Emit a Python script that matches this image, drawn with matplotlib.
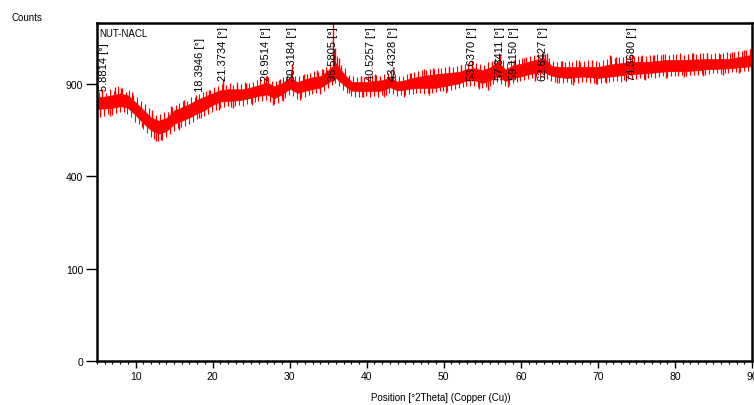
import numpy as np
import matplotlib
matplotlib.use("Agg")
import matplotlib.pyplot as plt
import matplotlib.transforms as mtransforms

# --- данные (счёт по 2Theta) ---
two_theta = np.arange(5, 91, 1)
band_hi = [835, 840, 848, 860, 848, 805, 760, 715, 697, 712,
           756, 775, 795, 820, 840, 860, 880, 886, 886, 886,
           898, 912, 930, 905, 925, 960, 932, 950, 965, 972,
           1010, 1060, 990, 935, 932, 932, 940, 945, 960, 935,
           945, 960, 970, 978, 985, 990, 995, 1000, 1020, 1025,
           1012, 1030, 1070, 1015, 1047, 1055, 1069, 1085, 1095, 1040,
           1033, 1033, 1033, 1033, 1033, 1033, 1045, 1054, 1060, 1069,
           1069, 1069, 1072, 1078, 1083, 1083, 1083, 1085, 1087, 1089,
           1089, 1089, 1090, 1100, 1110, 1120]
band_lo = [726, 728, 732, 742, 732, 690, 645, 605, 587, 600,
           641, 658, 676, 700, 720, 750, 770, 774, 776, 782,
           794, 804, 815, 790, 815, 850, 823, 836, 848, 858,
           890, 920, 875, 838, 835, 835, 835, 838, 860, 838,
           845, 852, 855, 855, 856, 866, 875, 885, 905, 905,
           886, 905, 930, 900, 919, 930, 945, 955, 960, 935,
           925, 920, 925, 930, 925, 920, 925, 932, 938, 945,
           948, 950, 955, 960, 965, 965, 965, 968, 972, 978,
           980, 983, 985, 990, 995, 1000]

# шум: вершины вверх (5.2, 5.7, ...) и вниз (5.45, 5.95, ...)
noise_up_pos = np.arange(5.2, 90, 0.5)
noise_up = [850, 862, 845, 870, 858, 885, 872, 850, 860, 830,
            815, 790, 772, 748, 738, 712, 715, 728, 730, 758,
            770, 780, 795, 790, 815, 820, 835, 850, 858, 862,
            878, 890, 900, 895, 905, 892, 910, 898, 912, 905,
            915, 925, 930, 940, 948, 922, 918, 935, 945, 960,
            985, 955, 950, 962, 968, 975, 985, 980, 1000, 1015,
            1040, 1120, 1090, 1030, 1005, 960, 952, 948, 955, 945,
            950, 958, 962, 952, 965, 970, 985, 968, 955, 950,
            968, 972, 980, 985, 995, 990, 1002, 998, 1008, 1005,
            1012, 1018, 1015, 1020, 1028, 1035, 1040, 1050, 1042, 1035,
            1030, 1048, 1055, 1075, 1090, 1060, 1040, 1062, 1068, 1072,
            1078, 1085, 1090, 1100, 1105, 1115, 1108, 1075, 1058, 1052,
            1055, 1050, 1058, 1048, 1060, 1052, 1055, 1062, 1050, 1058,
            1052, 1065, 1070, 1088, 1075, 1082, 1085, 1090, 1092, 1088,
            1090, 1095, 1088, 1098, 1095, 1102, 1100, 1105, 1098, 1108,
            1102, 1110, 1100, 1106, 1112, 1104, 1110, 1115, 1112, 1108,
            1115, 1110, 1112, 1118, 1115, 1122, 1125, 1130, 1135, 1142]
noise_dn_pos = np.arange(5.45, 90, 0.5)
noise_dn = [712, 705, 718, 712, 722, 728, 725, 715, 700, 672,
            660, 630, 612, 590, 578, 570, 575, 588, 605, 622,
            635, 642, 650, 660, 672, 685, 695, 705, 718, 730,
            740, 752, 755, 760, 758, 762, 768, 765, 772, 778,
            785, 790, 795, 800, 785, 775, 780, 798, 812, 830,
            825, 808, 812, 820, 828, 835, 840, 845, 858, 872,
            895, 905, 888, 860, 840, 822, 818, 820, 815, 822,
            818, 825, 820, 828, 830, 842, 838, 825, 828, 832,
            835, 838, 840, 842, 838, 845, 840, 848, 852, 855,
            858, 862, 868, 872, 880, 888, 890, 885, 878, 872,
            880, 890, 900, 912, 898, 885, 892, 905, 912, 918,
            925, 932, 938, 945, 948, 940, 930, 918, 912, 908,
            905, 910, 902, 912, 908, 915, 910, 905, 908, 900,
            905, 910, 915, 918, 920, 915, 925, 930, 932, 935,
            938, 930, 940, 945, 942, 948, 950, 945, 952, 955,
            950, 958, 955, 960, 958, 962, 965, 960, 968, 970,
            972, 968, 975, 972, 978, 980, 982, 985, 988, 992]

# отдельные выбросы и пики (положение, счёт)
spike_up_pos = [5.6, 7.4, 8.1, 9.6, 12.2, 14.6, 16.3, 17.8, 19.5, 21.37,
                23.2, 24.3, 26.95, 28.6, 30.32, 31.9, 33.5, 34.3, 35.58, 35.9,
                36.4, 39.2, 41.1, 43.43, 45.6, 47.4, 48.6, 50.7, 52.2, 53.64,
                56.2, 57.34, 59.12, 60.4, 62.84, 63.4, 65.3, 67.6, 69.2, 71.6,
                72.4, 74.37, 75.6, 77.3, 78.4, 80.6, 82.3, 84.1, 85.8, 87.4,
                88.9, 89.7]
spike_up_cnt = [870, 880, 875, 850, 735, 760, 800, 830, 860, 935,
                900, 905, 950, 925, 1035, 965, 990, 1000, 1340, 1150,
                1080, 955, 965, 1015, 975, 1000, 1010, 1015, 1030, 1055,
                1050, 1105, 1065, 1075, 1120, 1110, 1055, 1065, 1060, 1100,
                1085, 1095, 1090, 1100, 1105, 1100, 1110, 1115, 1105, 1120,
                1135, 1140]
spike_dn_pos = [5.4, 6.7, 10.8, 12.6, 13.3, 15.6, 18.2, 20.8, 22.6, 25.1,
                27.8, 29.2, 31.4, 33.9, 37.7, 39.5, 42.3, 44.9, 48.1, 50.3,
                54.6, 55.8, 58.4, 61.8, 64.7, 66.8, 69.7, 71.1, 73.6, 76.1,
                78.9, 81.2, 83.7, 86.2, 88.3]
spike_dn_cnt = [700, 705, 640, 570, 575, 625, 690, 740, 750, 770,
                770, 790, 800, 835, 840, 815, 815, 820, 830, 845,
                870, 860, 880, 920, 905, 895, 900, 905, 918, 925,
                940, 945, 955, 960, 970]

# подписи пиков
peak_pos = [5.8814, 18.3946, 21.3734, 26.9514, 30.3184, 35.5805, 40.5257,
            43.4328, 53.6370, 57.3411, 59.1150, 62.8427, 74.3680]
peak_top = [0.944, 0.959, 0.991, 0.991, 0.991, 0.991, 0.991,
            0.991, 0.991, 0.991, 0.991, 0.991, 0.991]

RED = "#ff0000"
CORE_INSET = 20  # плотная часть полосы уже, чем огибающая

fig = plt.figure(figsize=(7.54, 4.06), dpi=100)
ax = fig.add_axes([97 / 754, 44 / 406, 655 / 754, 338 / 406])
ax.set_yscale("function", functions=(lambda v: np.sqrt(np.clip(v, 0, None)),
                                     lambda v: v ** 2))

lo = np.array(band_lo) + CORE_INSET
hi = np.array(band_hi) - CORE_INSET
mid = (lo + hi) / 2
ax.fill_between(two_theta, lo, hi, color=RED, lw=0.5, edgecolor=RED)
ax.vlines(noise_up_pos, np.interp(noise_up_pos, two_theta, mid), noise_up,
          color=RED, lw=0.8)
ax.vlines(noise_dn_pos, noise_dn, np.interp(noise_dn_pos, two_theta, mid),
          color=RED, lw=0.8)
ax.vlines(spike_up_pos, np.interp(spike_up_pos, two_theta, mid), spike_up_cnt,
          color=RED, lw=1.0)
ax.vlines(spike_dn_pos, spike_dn_cnt, np.interp(spike_dn_pos, two_theta, mid),
          color=RED, lw=1.0)

trans = mtransforms.blended_transform_factory(ax.transData, ax.transAxes)
for p, t in zip(peak_pos, peak_top):
    ax.text(p, t, f"{p:.4f} [°]", rotation=90, ha="center", va="top",
            fontsize=8, family="Liberation Sans", transform=trans)

ax.text(0.004, 0.985, "NUT-NACL", transform=ax.transAxes, ha="left", va="top",
        fontsize=7, family="Liberation Sans")

ax.set_xlim(5, 90)
ax.set_ylim(0, 1340)
ax.set_xticks(range(10, 91, 10))
ax.set_xticks(range(5, 91, 1), minor=True)
ax.set_yticks([0, 100, 400, 900])
ax.tick_params(axis="x", which="major", length=5, width=1, labelsize=7.5, pad=2)
ax.tick_params(axis="x", which="minor", length=2, width=0.8)
ax.tick_params(axis="y", which="major", length=8, width=1, labelsize=7.5, pad=2)
ax.tick_params(axis="y", which="minor", length=0)
for lab in ax.get_xticklabels() + ax.get_yticklabels():
    lab.set_family("Liberation Sans")

for s in ax.spines.values():
    s.set_linewidth(1.8)

fig.text(12 / 754, 1 - 18 / 406, "Counts", ha="left", va="center",
         fontsize=7, family="Liberation Sans")
fig.text(441 / 754, 1 - 398 / 406, "Position [°2Theta] (Copper (Cu))",
         ha="center", va="center", fontsize=7, family="Liberation Sans")

fig.savefig("out.png", dpi=100)
